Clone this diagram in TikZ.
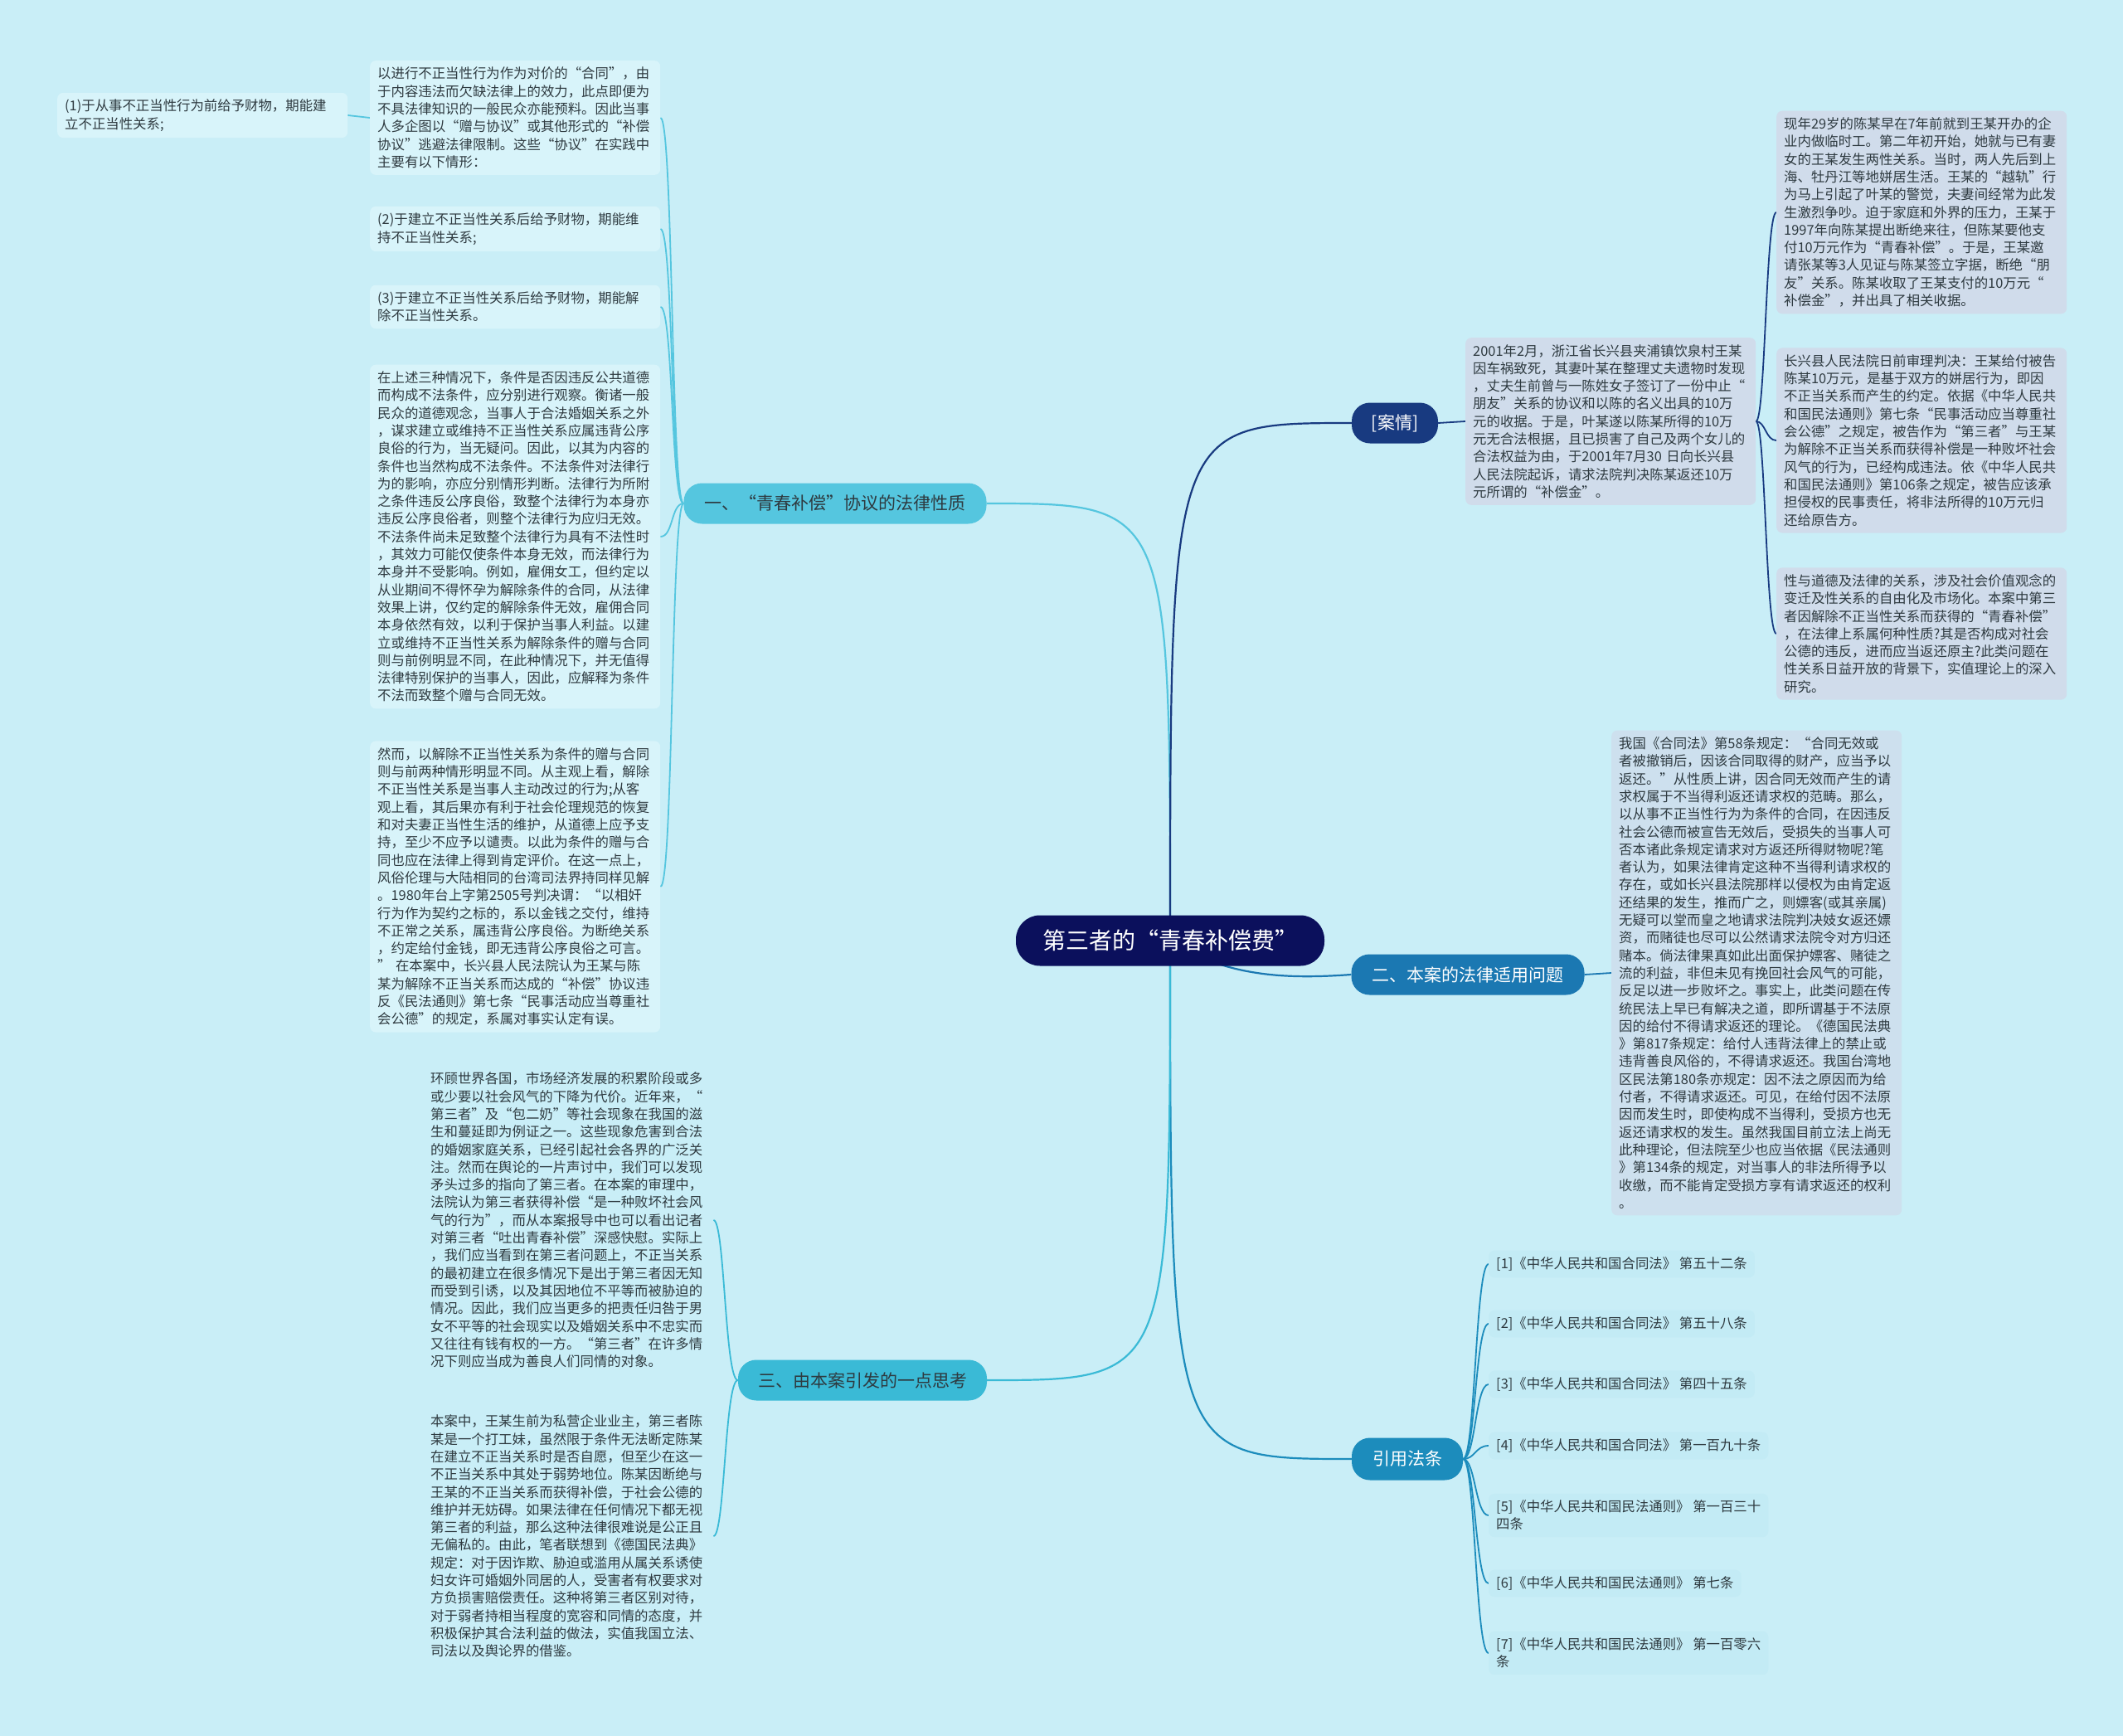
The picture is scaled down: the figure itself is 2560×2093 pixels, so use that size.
\documentclass[tikz,border=0pt]{standalone}
\usepackage{fontspec}
\setmainfont{Noto Sans CJK SC}
\definecolor{bgc}{HTML}{C9EEF7}
\definecolor{rootc}{HTML}{0B105C}
\definecolor{caseC}{HTML}{183A80}
\definecolor{lawC}{HTML}{1B78B2}
\definecolor{refC}{HTML}{1C8CBC}
\definecolor{oneC}{HTML}{55C6DF}
\definecolor{threeC}{HTML}{3ABAD6}
\definecolor{leafL}{HTML}{D8F4FA}
\definecolor{leafR}{HTML}{D0DCEB}
\definecolor{leafM}{HTML}{CDE0EE}
\definecolor{leafRef}{HTML}{C3EBF5}
\definecolor{txt}{HTML}{2E3A40}
\pgfdeclarelayer{bglayer}
\pgfsetlayers{bglayer,main}
\begin{document}
\begin{tikzpicture}[x=1pt,y=-1pt,
  leaf/.style={rounded corners=7pt, text width=332pt, align=left, inner xsep=9pt, inner ysep=8pt,
    font=\fontsize{16.4}{21.3}\selectfont, text=txt, anchor=west},
  reff/.style={rounded corners=7pt, align=left, inner xsep=9pt, inner ysep=8pt, fill=leafRef,
    font=\fontsize{16.4}{21.3}\selectfont, text=txt, anchor=west},
  branch/.style={rounded corners=22pt, minimum height=49pt, inner xsep=12pt,
    font=\fontsize{21}{25}\selectfont},
  rootn/.style={rounded corners=29pt, minimum width=372pt, minimum height=61pt, fill=rootc,
    text=white, font=\fontsize{28}{32}\selectfont},
  conn/.style={line width=2.2pt},
  sub/.style={line width=1.8pt}
]
\useasboundingbox (0,0) rectangle (2560,2093);
\begin{pgfonlayer}{bglayer}
\fill[bgc] (0,0) rectangle (2560,2093);
\end{pgfonlayer}

% root
\node[rootn] (root) at (1411,1134) {第三者的“青春补偿费”};

% branches
\node[branch, fill=oneC, text=txt, minimum width=365pt] (b1) at (1007,607) {一、“青春补偿”协议的法律性质};
\node[branch, fill=caseC, text=white, minimum width=104pt] (b2) at (1682,510) {[案情]};
\node[branch, fill=lawC, text=white, minimum width=281pt] (b3) at (1770,1175) {二、本案的法律适用问题};
\node[branch, fill=refC, text=white, minimum width=134pt, minimum height=51pt] (b4) at (1697,1759) {引用法条};
\node[branch, fill=threeC, text=txt, minimum width=300pt] (b5) at (1040,1664) {三、由本案引发的一点思考};

% left leaves
\node[leaf, fill=leafL] (L0) at (69,139) {(1)于从事不正当性行为前给予财物，期能建\\立不正当性关系;};
\node[leaf, fill=leafL] (LA) at (446,142) {以进行不正当性行为作为对价的“合同”，由\\于内容违法而欠缺法律上的效力，此点即便为\\不具法律知识的一般民众亦能预料。因此当事\\人多企图以“赠与协议”或其他形式的“补偿\\协议”逃避法律限制。这些“协议”在实践中\\主要有以下情形：};
\node[leaf, fill=leafL] (L2) at (446,276) {(2)于建立不正当性关系后给予财物，期能维\\持不正当性关系;};
\node[leaf, fill=leafL] (L3) at (446,370) {(3)于建立不正当性关系后给予财物，期能解\\除不正当性关系。};
\node[leaf, fill=leafL] (L4) at (446,647) {在上述三种情况下，条件是否因违反公共道德\\而构成不法条件，应分别进行观察。衡诸一般\\民众的道德观念，当事人于合法婚姻关系之外\\，谋求建立或维持不正当性关系应属违背公序\\良俗的行为，当无疑问。因此，以其为内容的\\条件也当然构成不法条件。不法条件对法律行\\为的影响，亦应分别情形判断。法律行为所附\\之条件违反公序良俗，致整个法律行为本身亦\\违反公序良俗者，则整个法律行为应归无效。\\不法条件尚未足致整个法律行为具有不法性时\\，其效力可能仅使条件本身无效，而法律行为\\本身并不受影响。例如，雇佣女工，但约定以\\从业期间不得怀孕为解除条件的合同，从法律\\效果上讲，仅约定的解除条件无效，雇佣合同\\本身依然有效，以利于保护当事人利益。以建\\立或维持不正当性关系为解除条件的赠与合同\\则与前例明显不同，在此种情况下，并无值得\\法律特别保护的当事人，因此，应解释为条件\\不法而致整个赠与合同无效。};
\node[leaf, fill=leafL] (L5) at (446,1069) {然而，以解除不正当性关系为条件的赠与合同\\则与前两种情形明显不同。从主观上看，解除\\不正当性关系是当事人主动改过的行为;从客\\观上看，其后果亦有利于社会伦理规范的恢复\\和对夫妻正当性生活的维护，从道德上应予支\\持，至少不应予以谴责。以此为条件的赠与合\\同也应在法律上得到肯定评价。在这一点上，\\风俗伦理与大陆相同的台湾司法界持同样见解\\。1980年台上字第2505号判决谓：“以相奸\\行为作为契约之标的，系以金钱之交付，维持\\不正常之关系，属违背公序良俗。为断绝关系\\，约定给付金钱，即无违背公序良俗之可言。\\” 在本案中，长兴县人民法院认为王某与陈\\某为解除不正当关系而达成的“补偿”协议违\\反《民法通则》第七条“民事活动应当尊重社\\会公德”的规定，系属对事实认定有误。};

% third branch leaves
\node[leaf] (L6) at (510,1471) {环顾世界各国，市场经济发展的积累阶段或多\\或少要以社会风气的下降为代价。近年来，“\\第三者”及“包二奶”等社会现象在我国的滋\\生和蔓延即为例证之一。这些现象危害到合法\\的婚姻家庭关系，已经引起社会各界的广泛关\\注。然而在舆论的一片声讨中，我们可以发现\\矛头过多的指向了第三者。在本案的审理中，\\法院认为第三者获得补偿“是一种败坏社会风\\气的行为”，而从本案报导中也可以看出记者\\对第三者“吐出青春补偿”深感快慰。实际上\\，我们应当看到在第三者问题上，不正当关系\\的最初建立在很多情况下是出于第三者因无知\\而受到引诱，以及其因地位不平等而被胁迫的\\情况。因此，我们应当更多的把责任归咎于男\\女不平等的社会现实以及婚姻关系中不忠实而\\又往往有钱有权的一方。“第三者”在许多情\\况下则应当成为善良人们同情的对象。};
\node[leaf] (L7) at (510,1852) {本案中，王某生前为私营企业业主，第三者陈\\某是一个打工妹，虽然限于条件无法断定陈某\\在建立不正当关系时是否自愿，但至少在这一\\不正当关系中其处于弱势地位。陈某因断绝与\\王某的不正当关系而获得补偿，于社会公德的\\维护并无妨碍。如果法律在任何情况下都无视\\第三者的利益，那么这种法律很难说是公正且\\无偏私的。由此，笔者联想到《德国民法典》\\规定：对于因诈欺、胁迫或滥用从属关系诱使\\妇女许可婚姻外同居的人，受害者有权要求对\\方负损害赔偿责任。这种将第三者区别对待，\\对于弱者持相当程度的宽容和同情的态度，并\\积极保护其合法利益的做法，实值我国立法、\\司法以及舆论界的借鉴。};

% case branch
\node[leaf, fill=leafR] (C0) at (1767,508) {2001年2月，浙江省长兴县夹浦镇饮泉村王某\\因车祸致死，其妻叶某在整理丈夫遗物时发现\\，丈夫生前曾与一陈姓女子签订了一份中止“\\朋友”关系的协议和以陈的名义出具的10万\\元的收据。于是，叶某遂以陈某所得的10万\\元无合法根据，且已损害了自己及两个女儿的\\合法权益为由，于2001年7月30 日向长兴县\\人民法院起诉，请求法院判决陈某返还10万\\元所谓的“补偿金”。};
\node[leaf, fill=leafR] (R1) at (2142,256) {现年29岁的陈某早在7年前就到王某开办的企\\业内做临时工。第二年初开始，她就与已有妻\\女的王某发生两性关系。当时，两人先后到上\\海、牡丹江等地姘居生活。王某的“越轨”行\\为马上引起了叶某的警觉，夫妻间经常为此发\\生激烈争吵。迫于家庭和外界的压力，王某于\\1997年向陈某提出断绝来往，但陈某要他支\\付10万元作为“青春补偿”。于是，王某邀\\请张某等3人见证与陈某签立字据，断绝“朋\\友”关系。陈某收取了王某支付的10万元“\\补偿金”，并出具了相关收据。};
\node[leaf, fill=leafR] (R2) at (2142,531) {长兴县人民法院日前审理判决：王某给付被告\\陈某10万元，是基于双方的姘居行为，即因\\不正当关系而产生的约定。依据《中华人民共\\和国民法通则》第七条“民事活动应当尊重社\\会公德”之规定，被告作为“第三者”与王某\\为解除不正当关系而获得补偿是一种败坏社会\\风气的行为，已经构成违法。依《中华人民共\\和国民法通则》第106条之规定，被告应该承\\担侵权的民事责任，将非法所得的10万元归\\还给原告方。};
\node[leaf, fill=leafR] (R3) at (2142,764) {性与道德及法律的关系，涉及社会价值观念的\\变迁及性关系的自由化及市场化。本案中第三\\者因解除不正当性关系而获得的“青春补偿”\\，在法律上系属何种性质?其是否构成对社会\\公德的违反，进而应当返还原主?此类问题在\\性关系日益开放的背景下，实值理论上的深入\\研究。};

% law branch
\node[leaf, fill=leafM] (M1) at (1943,1173) {我国《合同法》第58条规定：“合同无效或\\者被撤销后，因该合同取得的财产，应当予以\\返还。”从性质上讲，因合同无效而产生的请\\求权属于不当得利返还请求权的范畴。那么，\\以从事不正当性行为为条件的合同，在因违反\\社会公德而被宣告无效后，受损失的当事人可\\否本诸此条规定请求对方返还所得财物呢?笔\\者认为，如果法律肯定这种不当得利请求权的\\存在，或如长兴县法院那样以侵权为由肯定返\\还结果的发生，推而广之，则嫖客(或其亲属)\\无疑可以堂而皇之地请求法院判决妓女返还嫖\\资，而赌徒也尽可以公然请求法院令对方归还\\赌本。倘法律果真如此出面保护嫖客、赌徒之\\流的利益，非但未见有挽回社会风气的可能，\\反足以进一步败坏之。事实上，此类问题在传\\统民法上早已有解决之道，即所谓基于不法原\\因的给付不得请求返还的理论。《德国民法典\\》第817条规定：给付人违背法律上的禁止或\\违背善良风俗的，不得请求返还。我国台湾地\\区民法第180条亦规定：因不法之原因而为给\\付者，不得请求返还。可见，在给付因不法原\\因而发生时，即使构成不当得利，受损方也无\\返还请求权的发生。虽然我国目前立法上尚无\\此种理论，但法院至少也应当依据《民法通则\\》第134条的规定，对当事人的非法所得予以\\收缴，而不能肯定受损方享有请求返还的权利\\。};

% references
\node[reff] (F1) at (1795,1524) {[1]《中华人民共和国合同法》 第五十二条};
\node[reff] (F2) at (1795,1596) {[2]《中华人民共和国合同法》 第五十八条};
\node[reff] (F3) at (1795,1669) {[3]《中华人民共和国合同法》 第四十五条};
\node[reff] (F4) at (1795,1743) {[4]《中华人民共和国合同法》 第一百九十条};
\node[reff] (F5) at (1795,1827) {[5]《中华人民共和国民法通则》 第一百三十\\四条};
\node[reff] (F6) at (1795,1909) {[6]《中华人民共和国民法通则》 第七条};
\node[reff] (F7) at (1795,1993) {[7]《中华人民共和国民法通则》 第一百零六\\条};

% connectors
\begin{pgfonlayer}{bglayer}
\draw[conn, oneC] (root.center) .. controls (1411,607) and (1411,607) .. (b1.east);
\draw[conn, caseC] (root.center) .. controls (1411,510) and (1411,510) .. (b2.west);
\draw[conn, lawC] (root.center) .. controls (1480,1180) and (1560,1180) .. (b3.west);
\draw[conn, refC] (root.center) .. controls (1411,1759) and (1411,1759) .. (b4.west);
\draw[conn, threeC] (root.center) .. controls (1411,1664) and (1411,1664) .. (b5.east);

\foreach \n in {LA,L2,L3,L4,L5}
  \draw[sub, oneC] (b1.west) .. controls (809,607) and (812,0 |- \n.east) .. (\n.east);
\draw[sub, oneC] (LA.west) -- (L0.east);

\foreach \n in {L6,L7}
  \draw[sub, threeC] (b5.west) .. controls (874,1664) and (874,0 |- \n.east) .. (\n.east);

\draw[sub, caseC] (b2.east) -- (C0.west);
\foreach \n in {R1,R2,R3}
  \draw[sub, caseC] (C0.east) .. controls (2129,508) and (2129,0 |- \n.west) .. (\n.west);

\draw[sub, lawC] (b3.east) -- (M1.west);

\foreach \n in {F1,F2,F3,F4,F5,F6,F7}
  \draw[sub, refC] (b4.east) .. controls (1779,1759) and (1779,0 |- \n.west) .. (\n.west);
\end{pgfonlayer}
\end{tikzpicture}
\end{document}
